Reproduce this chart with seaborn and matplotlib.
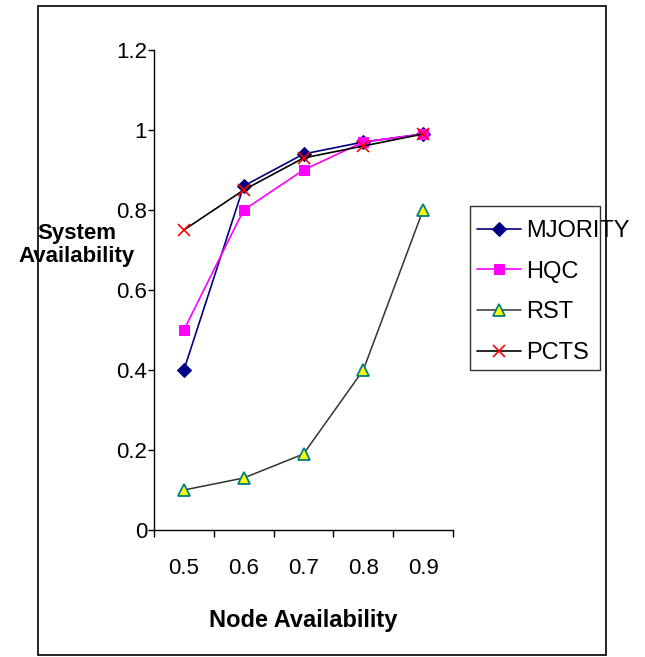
import matplotlib
matplotlib.use("Agg")
import matplotlib.pyplot as plt
import seaborn as sns
import numpy as np
from matplotlib.ticker import FixedLocator, NullFormatter

categories = ["0.5", "0.6", "0.7", "0.8", "0.9"]
mjority = [0.40, 0.86, 0.94, 0.97, 0.99]
hqc = [0.50, 0.80, 0.90, 0.97, 0.99]
rst = [0.10, 0.13, 0.19, 0.40, 0.80]
pcts = [0.75, 0.85, 0.93, 0.96, 0.99]
series_names = ["MJORITY", "HQC", "RST", "PCTS"]
yticks = [0, 0.2, 0.4, 0.6, 0.8, 1, 1.2]
ytick_labels = ["0", "0.2", "0.4", "0.6", "0.8", "1", "1.2"]

sns.set_style("white")
plt.rcParams['font.family'] = ['Liberation Sans', 'DejaVu Sans']
for k in ['text.color', 'axes.labelcolor', 'xtick.color', 'ytick.color']:
    plt.rcParams[k] = 'black'

W, H = 645, 657
fig = plt.figure(figsize=(W/100, H/100), dpi=100)
ax = fig.add_axes([154/W, 1-530/H, 299/W, 480/H])

styles = [
    dict(color="#000080", marker="D", markersize=7.5, markerfacecolor="#000080", markeredgecolor="#000080", lw=1.2),
    dict(color="#ff00ff", marker="s", markersize=7.5, markerfacecolor="#ff00ff", markeredgecolor="#ff00ff", lw=1.2),
    dict(color="#333333", marker="^", markersize=8.5, markerfacecolor="#ffff00", markeredgecolor="#008080", markeredgewidth=1.3, lw=1.1),
    dict(color="#000000", marker="x", markersize=9, markeredgecolor="#ff0000", markeredgewidth=1.2, lw=1.2),
]
for name, vals, st in zip(series_names, [mjority, hqc, rst, pcts], styles):
    sns.lineplot(x=categories, y=vals, ax=ax, label=name, sort=False, **st)

ax.set_xlim(-0.5, 4.5)
ax.set_ylim(0, 1.2)
ax.set_yticks(yticks)
ax.set_yticklabels(ytick_labels)
ax.xaxis.set_minor_locator(FixedLocator(np.arange(-0.5, 5.0, 1.0)))
ax.xaxis.set_minor_formatter(NullFormatter())
ax.tick_params(axis='x', which='major', length=0, pad=20, labelsize=16)
ax.tick_params(axis='x', which='minor', length=5, width=1, color='black', direction='out', bottom=True)
ax.tick_params(axis='y', which='major', length=4, width=1, color='black', direction='out', left=True, labelsize=16, pad=1)

for side in ['top', 'right']:
    ax.spines[side].set_visible(False)
for side in ['left', 'bottom']:
    ax.spines[side].set_color('black')
    ax.spines[side].set_linewidth(1.0)

ax.set_xlabel("Node Availability", fontsize=17, fontweight='bold', labelpad=22)
ax.set_ylabel("")
fig.text(77/W, 1-245/H, "System\nAvailability", fontsize=16, fontweight='bold',
         ha='center', va='center', linespacing=1.15)

leg = ax.legend(loc='upper left', bbox_to_anchor=(477/W, 1-220/H), bbox_transform=fig.transFigure,
                fontsize=17, frameon=False, handlelength=1.85, handletextpad=0.22,
                labelspacing=0.79, borderpad=0, borderaxespad=0)

# legend frame (narrower than its text, as in the original)
fig.patches.append(plt.Rectangle((470/W, 1-370/H), 130/W, 164/H,
                                 transform=fig.transFigure, fill=False, edgecolor='#333333', lw=1.0))
# outer border
fig.patches.append(plt.Rectangle((38/W, 1-655/H), (606-38)/W, (655-6)/H,
                                 transform=fig.transFigure, fill=False, edgecolor='black', lw=1.2))

fig.savefig("out.png", dpi=100)
